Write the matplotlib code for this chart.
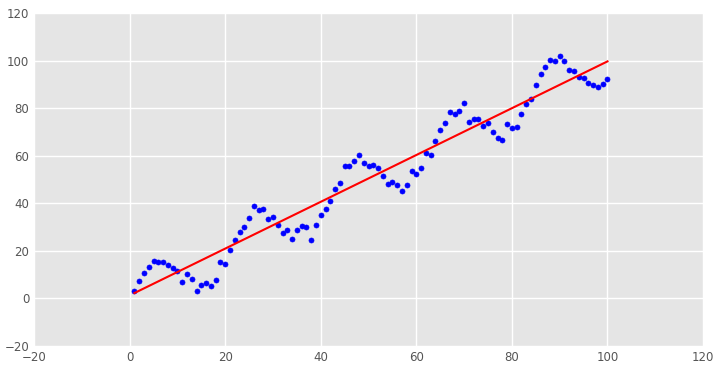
import numpy as np
from matplotlib import pyplot as plt

# Dữ liệu
x = np.arange(1, 101)
y = [3.2, 7.4, 10.8, 13.3, 15.8, 15.4, 15.4, 14.2, 12.9, 11.6,
     7.0, 10.4, 8.3, 3.2, 5.8, 6.6, 5.3, 7.9, 15.4, 14.6,
     20.5, 24.7, 28.0, 30.1, 33.9, 39.0, 37.3, 37.7, 33.5, 34.3,
     31.0, 27.6, 28.9, 25.1, 28.9, 30.6, 30.1, 24.7, 31.0, 35.2,
     37.7, 41.1, 46.1, 48.6, 55.8, 55.8, 57.9, 60.4, 57.0, 55.8,
     56.2, 54.9, 51.6, 48.2, 49.0, 47.8, 45.3, 47.8, 53.7, 52.4,
     54.9, 61.2, 60.4, 66.3, 70.9, 73.9, 78.5, 77.6, 78.9, 82.3,
     74.3, 75.5, 75.5, 72.6, 73.9, 70.1, 67.5, 66.7, 73.4, 71.8,
     72.2, 77.6, 81.8, 83.9, 89.8, 94.5, 97.4, 100.3, 99.9, 102.0,
     99.9, 96.1, 95.7, 93.2, 92.8, 90.7, 89.8, 89.0, 90.2, 92.3]

# Đường hồi quy tuyến tính
slope, intercept = np.polyfit(x, y, 1)
fit = slope * x + intercept

plt.style.use('ggplot')
fig = plt.figure(figsize=(7.18, 3.71), dpi=100)
ax = fig.add_axes([0.0474, 0.0674, 0.9318, 0.8976])
ax.set_facecolor('#E5E5E5')

ax.scatter(x, y, s=13, color='blue', edgecolors='blue', zorder=3)
ax.plot(x, fit, color='red', linewidth=1.5, zorder=4)

ax.set_xlim(-20, 120)
ax.set_ylim(-20, 120)
ax.grid(True, color='white', linewidth=1)
ax.tick_params(length=0, labelsize=8.5, colors='#555555')
for s in ax.spines.values():
    s.set_visible(False)

plt.savefig("out.png")
